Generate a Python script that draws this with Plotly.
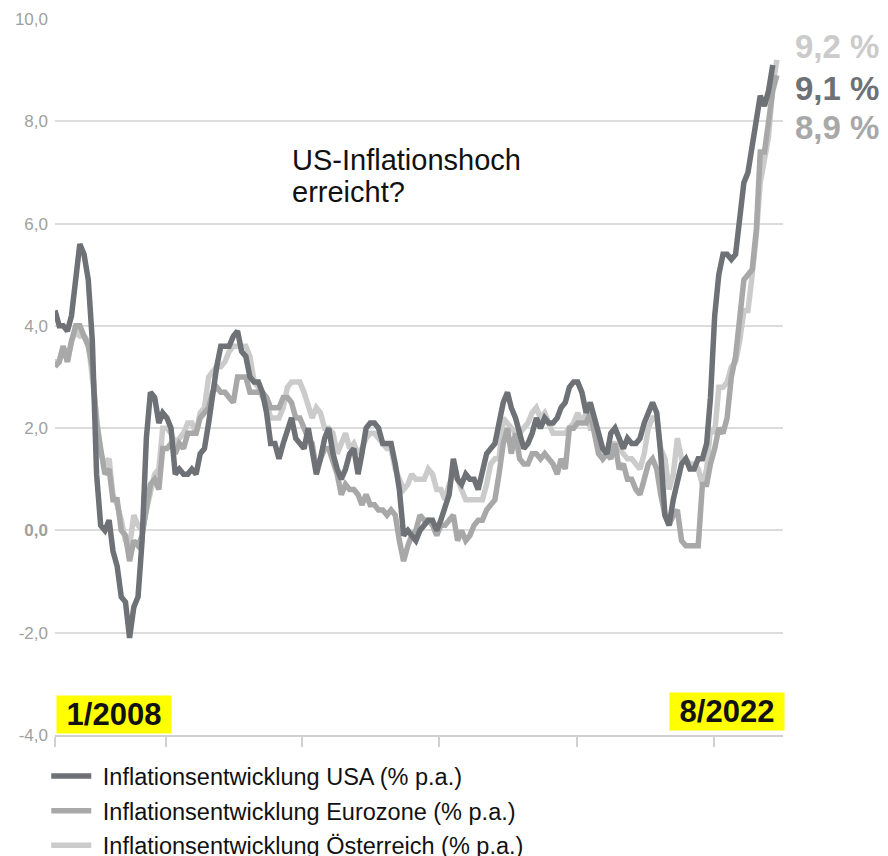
"""Inflation USA / Eurozone / Austria 2008-2022 line chart."""

import pandas as pd
import plotly.graph_objects as go

months = pd.date_range("2008-01-01", "2022-07-01", freq="MS")

# US CPI yoy (%), 1/2008 - 6/2022
usa = [
    4.3, 4.0, 4.0, 3.9, 4.2, 5.0, 5.6, 5.4, 4.9, 3.7, 1.1, 0.1,
    0.0, 0.2, -0.4, -0.7, -1.3, -1.4, -2.1, -1.5, -1.3, -0.2, 1.8, 2.7,
    2.6, 2.1, 2.3, 2.2, 2.0, 1.1, 1.2, 1.1, 1.1, 1.2, 1.1, 1.5,
    1.6, 2.1, 2.7, 3.2, 3.6, 3.6, 3.6, 3.8, 3.9, 3.5, 3.4, 3.0,
    2.9, 2.9, 2.7, 2.3, 1.7, 1.7, 1.4, 1.7, 2.0, 2.2, 1.8, 1.7,
    1.6, 2.0, 1.5, 1.1, 1.4, 1.8, 2.0, 1.5, 1.2, 1.0, 1.2, 1.5,
    1.6, 1.1, 1.5, 2.0, 2.1, 2.1, 2.0, 1.7, 1.7, 1.7, 1.3, 0.8,
    -0.1, 0.0, -0.1, -0.2, 0.0, 0.1, 0.2, 0.2, 0.0, 0.2, 0.5, 0.7,
    1.4, 1.0, 0.9, 1.1, 1.0, 1.0, 0.8, 1.1, 1.5, 1.6, 1.7, 2.1,
    2.5, 2.7, 2.4, 2.2, 1.9, 1.6, 1.7, 1.9, 2.2, 2.0, 2.2, 2.1,
    2.1, 2.2, 2.4, 2.5, 2.8, 2.9, 2.9, 2.7, 2.3, 2.5, 2.2, 1.9,
    1.6, 1.5, 1.9, 2.0, 1.8, 1.6, 1.8, 1.7, 1.7, 1.8, 2.1, 2.3,
    2.5, 2.3, 1.5, 0.3, 0.1, 0.6, 1.0, 1.3, 1.4, 1.2, 1.2, 1.4,
    1.4, 1.7, 2.6, 4.2, 5.0, 5.4, 5.4, 5.3, 5.4, 6.2, 6.8, 7.0,
    7.5, 7.9, 8.5, 8.3, 8.6, 9.1,
]

# Eurozone HICP yoy (%), 1/2008 - 7/2022
eurozone = [
    3.2, 3.3, 3.6, 3.3, 3.7, 4.0, 4.0, 3.8, 3.6, 3.2, 2.1, 1.6,
    1.1, 1.2, 0.6, 0.6, 0.0, -0.1, -0.6, -0.2, -0.3, -0.1, 0.5, 0.9,
    1.0, 0.8, 1.6, 1.6, 1.7, 1.5, 1.7, 1.6, 1.9, 1.9, 1.9, 2.2,
    2.3, 2.4, 2.7, 2.8, 2.7, 2.7, 2.6, 2.5, 3.0, 3.0, 3.0, 2.7,
    2.7, 2.7, 2.7, 2.6, 2.4, 2.4, 2.4, 2.6, 2.6, 2.5, 2.2, 2.2,
    2.0, 1.8, 1.7, 1.2, 1.4, 1.6, 1.6, 1.3, 1.1, 0.7, 0.9, 0.8,
    0.8, 0.7, 0.5, 0.7, 0.5, 0.5, 0.4, 0.4, 0.3, 0.4, 0.3, -0.2,
    -0.6, -0.3, -0.1, 0.0, 0.3, 0.2, 0.2, 0.1, -0.1, 0.1, 0.1, 0.2,
    0.3, -0.2, 0.0, -0.2, -0.1, 0.1, 0.2, 0.2, 0.4, 0.5, 0.6, 1.1,
    1.7, 2.0, 1.5, 1.9, 1.4, 1.3, 1.3, 1.5, 1.5, 1.4, 1.5, 1.4,
    1.3, 1.1, 1.4, 1.2, 2.0, 2.0, 2.1, 2.1, 2.1, 2.3, 1.9, 1.5,
    1.4, 1.5, 1.4, 1.7, 1.2, 1.3, 1.0, 1.0, 0.8, 0.7, 1.0, 1.3,
    1.4, 1.2, 0.7, 0.3, 0.1, 0.3, 0.4, -0.2, -0.3, -0.3, -0.3, -0.3,
    0.9, 0.9, 1.3, 1.6, 2.0, 1.9, 2.2, 3.0, 3.4, 4.1, 4.9, 5.0,
    5.1, 5.9, 7.4, 7.4, 8.1, 8.6, 8.9,
]

# Austria yoy (%), 1/2008 - 7/2022
austria = [
    3.3, 3.3, 3.6, 3.3, 3.7, 3.9, 3.8, 3.8, 3.7, 3.0, 2.3, 1.5,
    1.3, 1.4, 0.7, 0.5, 0.2, -0.2, -0.3, 0.3, 0.1, 0.0, 0.4, 0.8,
    1.1, 1.2, 2.0, 2.0, 1.9, 1.7, 1.8, 1.9, 2.1, 2.1, 1.9, 2.3,
    2.4, 3.0, 3.1, 3.2, 3.2, 3.3, 3.5, 3.6, 3.6, 3.6, 3.6, 3.4,
    2.9, 2.8, 2.6, 2.5, 2.2, 2.2, 2.2, 2.4, 2.8, 2.9, 2.9, 2.9,
    2.7, 2.4, 2.2, 2.4, 2.3, 2.0, 2.0, 1.9, 1.5, 1.7, 1.9, 1.6,
    1.7, 1.5, 1.6, 1.8, 1.9, 1.9, 1.8, 1.7, 1.6, 1.6, 1.2, 1.0,
    0.8, 0.9, 1.1, 1.0, 1.0, 1.0, 1.2, 1.1, 0.8, 0.8, 0.6, 0.9,
    1.1, 1.0, 0.8, 0.6, 0.6, 0.6, 0.6, 0.6, 0.9, 1.3, 1.4, 1.4,
    2.2, 2.1, 2.0, 1.9, 1.9, 2.0, 2.1, 2.3, 2.4, 2.2, 2.3, 2.1,
    1.9, 1.9, 1.9, 1.9, 2.0, 2.1, 2.3, 2.1, 2.3, 2.0, 2.0, 1.6,
    1.4, 1.5, 1.7, 1.7, 1.6, 1.5, 1.4, 1.4, 1.3, 1.2, 1.5, 2.0,
    2.2, 2.2, 1.6, 1.4, 0.8, 1.1, 1.8, 1.4, 1.4, 1.3, 1.3, 1.2,
    0.9, 1.2, 2.0, 1.9, 2.8, 2.8, 2.9, 3.2, 3.3, 3.7, 4.3, 4.3,
    5.0, 5.8, 6.8, 7.2, 7.7, 8.7, 9.2,
]

y_ticks = [-4, -2, 0, 2, 4, 6, 8, 10]
y_ticktext = ["-4,0", "-2,0", "<b>0,0</b>", "2,0", "4,0", "6,0", "8,0", "10,0"]
x_ticks = ["2008-01-01", "2010-03-25", "2012-12-18", "2015-09-18", "2018-06-28", "2021-03-28"]

end_labels = ["9,2 %", "9,1 %", "8,9 %"]

C_USA = "#6e7175"
C_EUR = "#a8a8a8"
C_AUT = "#cbcbcb"
FONT = "Liberation Sans, Arial, Helvetica, sans-serif"

fig = go.Figure()

# drawn light to dark so the US line sits on top; legend rank puts USA first
series = [
    ("Inflationsentwicklung Österreich (% p.a.)", austria, C_AUT, "aut", 3),
    ("Inflationsentwicklung Eurozone (% p.a.)", eurozone, C_EUR, "eur", 2),
    ("Inflationsentwicklung USA (% p.a.)", usa, C_USA, "usa", 1),
]
for name, vals, color, grp, rank in series:
    fig.add_trace(go.Scatter(
        x=months[:len(vals)], y=vals,
        mode="lines", name="\u00a0" + name, legendgroup=grp, legendrank=rank,
        line=dict(color=color, width=5.5),
        hoverinfo="skip",
    ))

# annotations
fig.add_annotation(xref="paper", yref="paper", x=0.3228, y=0.803,
                   xanchor="left", yanchor="middle", showarrow=False,
                   text="US-Inflationshoch", font=dict(size=29, color="#111111", family=FONT))
fig.add_annotation(xref="paper", yref="paper", x=0.3228, y=0.758,
                   xanchor="left", yanchor="middle", showarrow=False,
                   text="erreicht?", font=dict(size=29, color="#111111", family=FONT))

end_colors = [C_AUT, C_USA, C_EUR]
end_y = [0.961, 0.9036, 0.8478]
for txt, col, yy in zip(end_labels, end_colors, end_y):
    fig.add_annotation(xref="paper", yref="paper", x=1.0137, y=yy,
                       xanchor="left", yanchor="middle", showarrow=False,
                       text=f"<b>{txt}</b>", font=dict(size=33, color=col, family=FONT))

fig.add_annotation(xref="paper", yref="paper", x=0.0014, y=0.002,
                   xanchor="left", yanchor="bottom", showarrow=False,
                   text="<b>\u00a01/2008\u00a0</b>", bgcolor="#ffff00", borderpad=1,
                   font=dict(size=31, color="#111111", family=FONT))
fig.add_annotation(xref="paper", yref="paper", x=1.003, y=0.006,
                   xanchor="right", yanchor="bottom", showarrow=False,
                   text="<b>\u00a08/2022\u00a0</b>", bgcolor="#ffff00", borderpad=1,
                   font=dict(size=31, color="#111111", family=FONT))

# page body has an 8px margin, so the figure is 8px smaller on each axis
fig.update_layout(
    width=880, height=848,
    margin=dict(l=47, r=105, t=11, b=121, autoexpand=False),
    plot_bgcolor="white", paper_bgcolor="white",
    separators=",.",
    font=dict(family=FONT),
    showlegend=True,
    legend=dict(
        orientation="v", x=-0.012, y=-0.027, xanchor="left", yanchor="top",
        traceorder="grouped", tracegroupgap=1, itemwidth=40,
        font=dict(size=23.5, color="#111111", family=FONT),
        bgcolor="rgba(0,0,0,0)",
    ),
)
fig.update_xaxes(
    type="date", range=["2008-01-01", "2022-08-15"],
    showgrid=False, zeroline=False,
    showline=True, linecolor="#d0d0d0", linewidth=2,
    ticks="outside", ticklen=10, tickwidth=1.5, tickcolor="#d0d0d0",
    tickvals=x_ticks, showticklabels=False,
)
fig.update_yaxes(
    range=[-4, 10], tickvals=y_ticks, ticktext=y_ticktext,
    showgrid=True, gridcolor="#dcdcdc", gridwidth=1.5, zeroline=False,
    showline=False, ticks="", ticklabelstandoff=6,
    tickfont=dict(size=17, color="#a0a0a0", family=FONT),
)

fig.write_html("out.html")
